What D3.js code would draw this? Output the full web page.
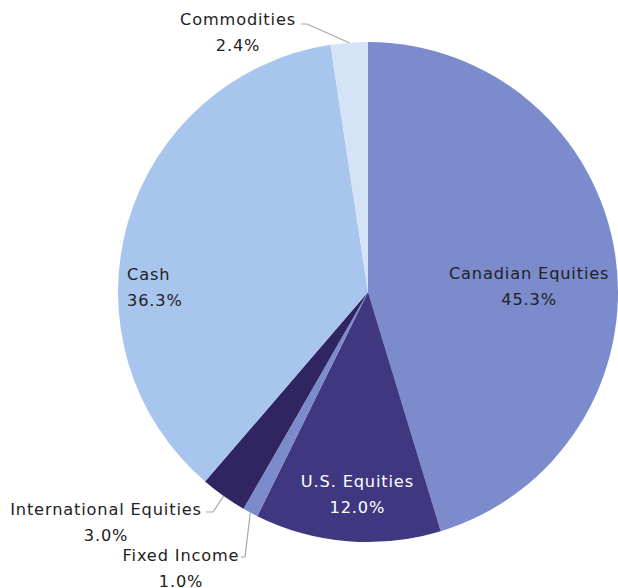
<!DOCTYPE html>
<html><head><meta charset="utf-8">
<script src="https://cdn.jsdelivr.net/npm/d3@7/dist/d3.min.js"></script>
<style>html,body{margin:0;padding:0;background:#fff;}svg{display:block;}</style>
</head><body>
<div id="chart"></div>
<script>
const categories = ["Canadian Equities", "U.S. Equities", "Fixed Income", "International Equities", "Cash", "Commodities"];
const values = [45.3, 12.0, 1.0, 3.0, 36.3, 2.4];
const colors = ["#7b8bcc", "#3f3880", "#7b8bcc", "#2f2560", "#a8c5ee", "#d5e3f7"];
const labelColors = ["#222", "#fff", "#222", "#222", "#222", "#222"];

// label layout (presentation only): inside labels in polar form; outside labels with leader lines
const labelLayout = [
  {type: "inside", angle: 87.9, rf: 0.645, anchor: "middle"},
  {type: "inside", angle: 183, rf: 0.81, anchor: "middle"},
  {type: "outside", elbow: [245, 557], end: [241, 557], text: [181, 555], anchor: "middle"},
  {type: "outside", elbow: [213, 512], end: [206, 512], text: [106, 509], anchor: "middle"},
  {type: "inside", angle: 271.0, rf: 0.964, anchor: "start"},
  {type: "outside", elbow: [307, 24], end: [301, 24], text: [238, 19], anchor: "middle"}
];

const W = 618, H = 588, cx = 368, cy = 292, R = 250;
const svg = d3.select("#chart").append("svg").attr("width", W).attr("height", H);
const g = svg.append("g").attr("transform", `translate(${cx},${cy})`);

const data = categories.map((c, i) => ({name: c, value: values[i], i}));
const pie = d3.pie().value(d => d.value).sort(null);
const arcs = pie(data);
const arc = d3.arc().innerRadius(0).outerRadius(R);

g.selectAll("path.slice").data(arcs).join("path")
  .attr("class", "slice")
  .attr("d", arc)
  .attr("fill", d => colors[d.data.i])
  .attr("stroke", "none");

const font = "'DejaVu Sans', sans-serif";
const fs = 16.2;

arcs.forEach(a => {
  const L = labelLayout[a.data.i];
  const pct = a.data.value.toFixed(1) + "%";
  let tx, ty;
  if (L.type === "inside") {
    const ang = L.angle * Math.PI / 180, r = R * L.rf;
    tx = cx + r * Math.sin(ang);
    ty = cy - r * Math.cos(ang) - 13;
  } else {
    const mid = (a.startAngle + a.endAngle) / 2;
    const sx = cx + R * Math.sin(mid), sy = cy - R * Math.cos(mid);
    svg.append("polyline")
      .attr("points", [[sx, sy], L.elbow, L.end].map(p => p.join(",")).join(" "))
      .attr("fill", "none").attr("stroke", "#a8a8a8").attr("stroke-width", 1.2);
    tx = L.text[0]; ty = L.text[1];
  }
  const t = svg.append("text")
    .attr("x", tx).attr("y", ty)
    .attr("text-anchor", L.anchor)
    .attr("font-family", font).attr("font-size", fs)
    .attr("letter-spacing", "0.85px")
    .attr("fill", labelColors[a.data.i]);
  t.append("tspan").attr("x", tx).attr("dy", "0.35em").text(a.data.name);
  t.append("tspan").attr("x", tx).attr("dy", 26).text(pct);
});
</script>
</body></html>
